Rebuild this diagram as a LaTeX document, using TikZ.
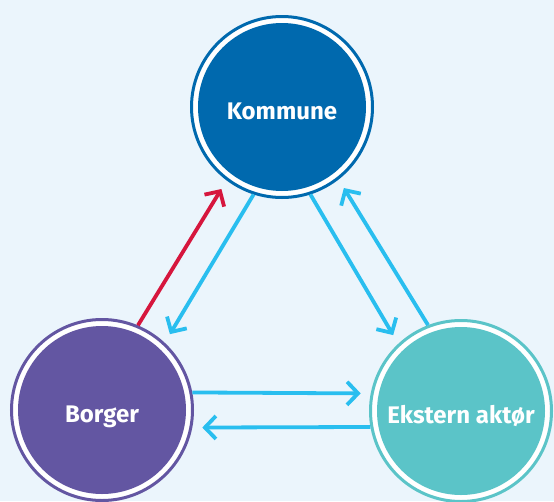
\documentclass[tikz,border=0pt]{standalone}
\usepackage{fontspec}
\setmainfont{Fira Sans}
\usetikzlibrary{arrows.meta}
\definecolor{bg}{HTML}{EBF5FC}
\definecolor{kblue}{HTML}{0069AE}
\definecolor{bpurple}{HTML}{6356A2}
\definecolor{eteal}{HTML}{5BC4C8}
\definecolor{ared}{HTML}{D6163D}
\definecolor{ablue}{HTML}{29BEEF}
\tikzset{
  ring/.style={circle, draw=#1, line width=3pt, fill=white, minimum size=181pt, inner sep=0pt,
    path picture={\fill[#1] (path picture bounding box.center) circle (84pt);}},
  lbl/.style={anchor=base, inner sep=0pt, text=white, font=\bfseries\fontsize{24}{26}\selectfont},
  conn/.style={draw=#1, line width=3.8pt, -{Straight Barb[length=11pt,width=23pt]}, shorten >=10pt},
}
\begin{document}
\begin{tikzpicture}[x=1pt,y=-1pt]
\fill[bg] (0,0) rectangle (554,501);
\useasboundingbox (0,0) rectangle (554,501);
\node[ring=kblue] (K) at (282,107) {};
\node[ring=bpurple] (B) at (102,410) {};
\node[ring=eteal] (E) at (461,411) {};
\node[lbl] (Kt) at ([yshift=-12.5pt]K.center) {Kommune};
\node[lbl] (Bt) at ([yshift=-12.5pt]B.center) {Borger};
\node[lbl] (Et) at ([yshift=-12.5pt]E.center) {Ekstern aktør};
\draw[conn=ared] (B.67) -- (K.233);
\draw[conn=ablue] (K.252) -- (B.47);
\draw[conn=ablue] (K.288) -- (E.133);
\draw[conn=ablue] (E.111) -- (K.308);
\draw[conn=ablue] (B.11) -- (E.169);
\draw[conn=ablue] (E.190) -- (B.349);
\end{tikzpicture}
\end{document}
